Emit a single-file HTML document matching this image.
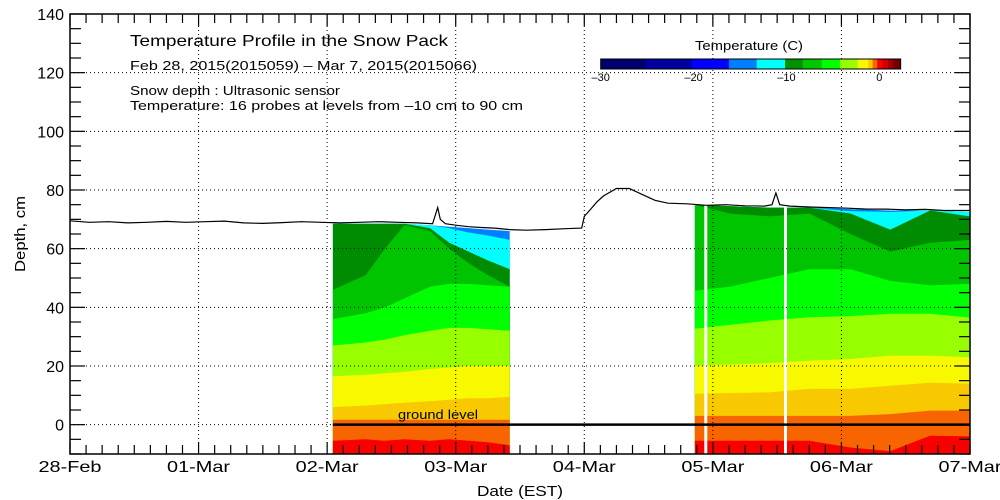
<!DOCTYPE html>
<html><head><meta charset="utf-8">
<style>
html,body{margin:0;padding:0;background:#fff;}
svg{display:block;font-family:"Liberation Sans",sans-serif;}
</style></head>
<body>
<svg id="chart" width="1000" height="500" viewBox="0 0 1000 500" xmlns="http://www.w3.org/2000/svg">
  <g id="bands"></g>
  <g id="grid"></g>
  <g id="snow"></g>
  <g id="axes"></g>
  <g fill="#000">
    <text x="130" y="46" font-size="16" textLength="318" lengthAdjust="spacingAndGlyphs">Temperature Profile in the Snow Pack</text>
    <text x="130" y="70" font-size="13" textLength="347" lengthAdjust="spacingAndGlyphs">Feb 28, 2015(2015059) – Mar  7, 2015(2015066)</text>
    <text x="130" y="95" font-size="13" textLength="210" lengthAdjust="spacingAndGlyphs">Snow depth : Ultrasonic sensor</text>
    <text x="130" y="110" font-size="13" textLength="393" lengthAdjust="spacingAndGlyphs">Temperature: 16 probes at levels from –10 cm to 90 cm</text>
  </g>
  <g id="cbar"></g>
  <text x="25" y="234" font-size="15" text-anchor="middle" textLength="76" lengthAdjust="spacingAndGlyphs" transform="rotate(-90 25 234)">Depth, cm</text>
  <text x="520" y="496" font-size="15" text-anchor="middle" textLength="86" lengthAdjust="spacingAndGlyphs">Date (EST)</text>
</svg>
<script>
// ---- data ----
const dayLabels = ["28-Feb","01-Mar","02-Mar","03-Mar","04-Mar","05-Mar","06-Mar","07-Mar"];
const depthTicks = [0,20,40,60,80,100,120,140];
const snowDays = [0,0.15,0.3,0.45,0.6,0.75,0.9,1.05,1.2,1.35,1.5,1.65,1.8,1.95,2.1,2.25,2.4,2.55,2.7,2.82,2.86,2.88,2.92,3.0,3.1,3.2,3.3,3.42,3.55,3.7,3.85,3.98,4.0,4.05,4.1,4.15,4.25,4.35,4.45,4.55,4.65,4.8,4.95,5.1,5.25,5.4,5.46,5.49,5.52,5.6,5.75,5.9,6.05,6.2,6.35,6.5,6.65,6.8,7.0];
const snowDepth = [69.5,69,69.2,68.8,69,69.3,69,69.2,69.4,68.8,68.6,68.9,69.2,69,68.8,69,69.2,69,68.8,68.5,74,70,68.5,68,67.5,67.2,67,66.5,66.3,66.5,66.8,67,71,73.5,76,78,80.5,80.5,78.5,76.5,75.5,75.3,74.8,75,74.6,74.5,75,79,75,74.5,74.2,74,73.8,73.5,73.5,73.2,73.4,73,73];
const bandColors = ["#0080ff","#00ffff","#008c00","#00c400","#00ff00","#98ff00","#f8f800","#f8c800","#f86400","#f80000"];
const bandNames = ["blue","cyan","dark-green","medium-green","green","yellow-green","yellow","gold","orange","red"];
const block1Days = [2.045,2.30,2.45,2.60,2.80,2.95,3.10,3.25,3.42];
const b1Blue = [68.5,68.5,68.5,68.5,68,67.5,67,66.5,66];
const b1Cyan = [68.5,68.5,68.5,68.5,68,67,65.5,64.5,63];
const b1DkGreen = [68.5,68.5,68.5,68.5,67,62,59,56,53];
const b1MedGreen = [46,51,60,68,66,60,55,51,47];
const b1Green = [36,38,40,43,47,48,48,47.5,47];
const b1YGreen = [27,28,29,30.5,32,33,33,32.5,32];
const b1Yellow = [16.5,17,17.5,18,19,19.5,20,20,20];
const b1Gold = [6,6.5,7,7.5,8,8.5,9,9,9.5];
const b1Orange = [1.7,1.7,1.7,1.7,1.7,1.7,1.7,1.7,1.7];
const b1Red = [-5.5,-5,-5.5,-5,-5.5,-5,-5.5,-6,-7];
const block2Days = [4.86,5.13,5.44,5.75,6.07,6.38,6.69,7.0];
const b2Blue = [75,74.5,74,74,73.5,73,73,72.5];
const b2Cyan = [75,74.5,74,74,72.8,72.5,73,72.5];
const b2DkGreen = [75,74.5,74,74,72,66.5,73,71];
const b2MedGreen = [75,72,71,72,65,59,62,63];
const b2Green = [45.7,47,50,53,53,49,47.5,48];
const b2YGreen = [32.7,34,35.5,36.6,37,37.8,37.8,36.5];
const b2Yellow = [20,20.5,21,21.8,22.4,23.5,23.5,23];
const b2Gold = [10.5,10.8,11,12.2,12.2,13.3,14.3,14];
const b2Orange = [3,3,3,3,3,3.6,4.8,4.8];
const b2Red = [-5.5,-5.5,-5.5,-5.5,-7.8,-9,-3.8,-4];
const gapDays = [4.945,5.565];
const cbarStops = [-30,-25.15,-20.2,-16.2,-13.2,-10.15,-8.25,-6.2,-4.23,-2.33,-1.18,-0.71,-0.22,0.32,0.97,1.5];
const cbarEnd = 2.3;
const cbarColors = ["#000070","#0000a0","#0000ff","#0080ff","#00ffff","#009000","#00c800","#00ff00","#99ff00","#f8f800","#f8c800","#f86400","#f80000","#d00000","#a00000","#700000"];
const cbarTicks = [-30,-20,-10,0];

// ---- scales ----
const X0=70, X1=970, Y0=14, Y1=454;
const x = d => X0 + d*(X1-X0)/7;
const y = v => Y0 + (140 - v)*(Y1-Y0)/150;
const NS="http://www.w3.org/2000/svg";
function mk(tag, attrs, parent){const e=document.createElementNS(NS,tag);for(const k in attrs)e.setAttribute(k,attrs[k]);parent.appendChild(e);return e;}

// bands
const bandsG=document.getElementById('bands');
function drawBlock(days, layers, bi){
  layers.forEach((arr,i)=>{
    let pts=days.map((d,j)=>x(d).toFixed(1)+','+y(arr[j]).toFixed(1));
    pts.push(x(days[days.length-1]).toFixed(1)+','+Y1);
    pts.push(x(days[0]).toFixed(1)+','+Y1);
    const p=mk('polygon',{points:pts.join(' '),fill:bandColors[i]},bandsG);
    
    
  });
}
drawBlock(block1Days,[b1Blue,b1Cyan,b1DkGreen,b1MedGreen,b1Green,b1YGreen,b1Yellow,b1Gold,b1Orange,b1Red],1);
drawBlock(block2Days,[b2Blue,b2Cyan,b2DkGreen,b2MedGreen,b2Green,b2YGreen,b2Yellow,b2Gold,b2Orange,b2Red],2);
gapDays.forEach(d=>{
  const r=mk('rect',{x:x(d)-1.5,y:y(76),width:3,height:Y1-y(76),fill:'#fff'},bandsG);
  
  
});

// grid
const gridG=document.getElementById('grid');
for(let d=1; d<7; d++){
  const l=mk('line',{x1:x(d),x2:x(d),y1:Y0,y2:Y1,stroke:'#000','stroke-width':1,'stroke-dasharray':'1 3'},gridG);
  
  
}
depthTicks.slice(0,-1).forEach(v=>{
  const l=mk('line',{x1:X0,x2:X1,y1:y(v),y2:y(v),stroke:'#000','stroke-width':1,'stroke-dasharray':'1 3'},gridG);
  
  
});
// ground level
const gl=mk('line',{x1:x(block1Days[0]),x2:X1,y1:y(0),y2:y(0),stroke:'#000','stroke-width':2.5},gridG);


const gt=mk('text',{x:398,y:419,'font-size':13,textLength:80,lengthAdjust:'spacingAndGlyphs'},gridG);
gt.textContent='ground level';



// snow depth line
const snowG=document.getElementById('snow');
const sl=mk('polyline',{points:snowDays.map((d,i)=>x(d).toFixed(1)+','+y(snowDepth[i]).toFixed(1)).join(' '),fill:'none',stroke:'#000','stroke-width':1.2},snowG);



// axes
const axG=document.getElementById('axes');
const fr=mk('rect',{x:X0,y:Y0,width:X1-X0,height:Y1-Y0,fill:'none',stroke:'#000','stroke-width':1.5},axG);


for(let v=-10; v<=140; v+=5){
  const len = (v%20===0)?15:11;
  mk('line',{x1:X0,x2:X0+len,y1:y(v),y2:y(v),stroke:'#000','stroke-width':1.2},axG);
  mk('line',{x1:X1,x2:X1-len,y1:y(v),y2:y(v),stroke:'#000','stroke-width':1.2},axG);
}
depthTicks.forEach(v=>{
  const t=mk('text',{x:X0-6,y:y(v)+6,'font-size':16,'text-anchor':'end'},axG);
  t.textContent=v;
  
  
});
for(let i=0;i<=56;i++){
  const d=i/8, len=(i%8===0)?12:9;
  mk('line',{x1:x(d),x2:x(d),y1:Y1,y2:Y1-len,stroke:'#000','stroke-width':1.2},axG);
  mk('line',{x1:x(d),x2:x(d),y1:Y0,y2:Y0+len,stroke:'#000','stroke-width':1.2},axG);
}
dayLabels.forEach((s,i)=>{
  const t=mk('text',{x:x(i),y:472,'font-size':16,'text-anchor':'middle',textLength:63,lengthAdjust:'spacingAndGlyphs'},axG);
  t.textContent=s;
  
  
});

// colorbar
const cb=document.getElementById('cbar');
const cx = t => 600.7 + (t+30)*(879.3-600.7)/30;
cbarStops.forEach((s,i)=>{
  const e = i<cbarStops.length-1 ? cbarStops[i+1] : cbarEnd;
  const r=mk('rect',{x:cx(s),y:59,width:cx(e)-cx(s)+0.3,height:10,fill:cbarColors[i]},cb);
  
  
});
mk('rect',{x:cx(-30),y:59,width:cx(cbarEnd)-cx(-30),height:10,fill:'none',stroke:'#000','stroke-width':1},cb);
cbarTicks.forEach(v=>{
  const t=mk('text',{x:cx(v),y:81,'font-size':11,'text-anchor':'middle'},cb);
  t.textContent=v<0?'–'+(-v):v;
  
  
});
const ct=mk('text',{x:749,y:50,'font-size':13,'text-anchor':'middle',textLength:108,lengthAdjust:'spacingAndGlyphs'},cb);
ct.textContent='Temperature (C)';


</script>
</body></html>
